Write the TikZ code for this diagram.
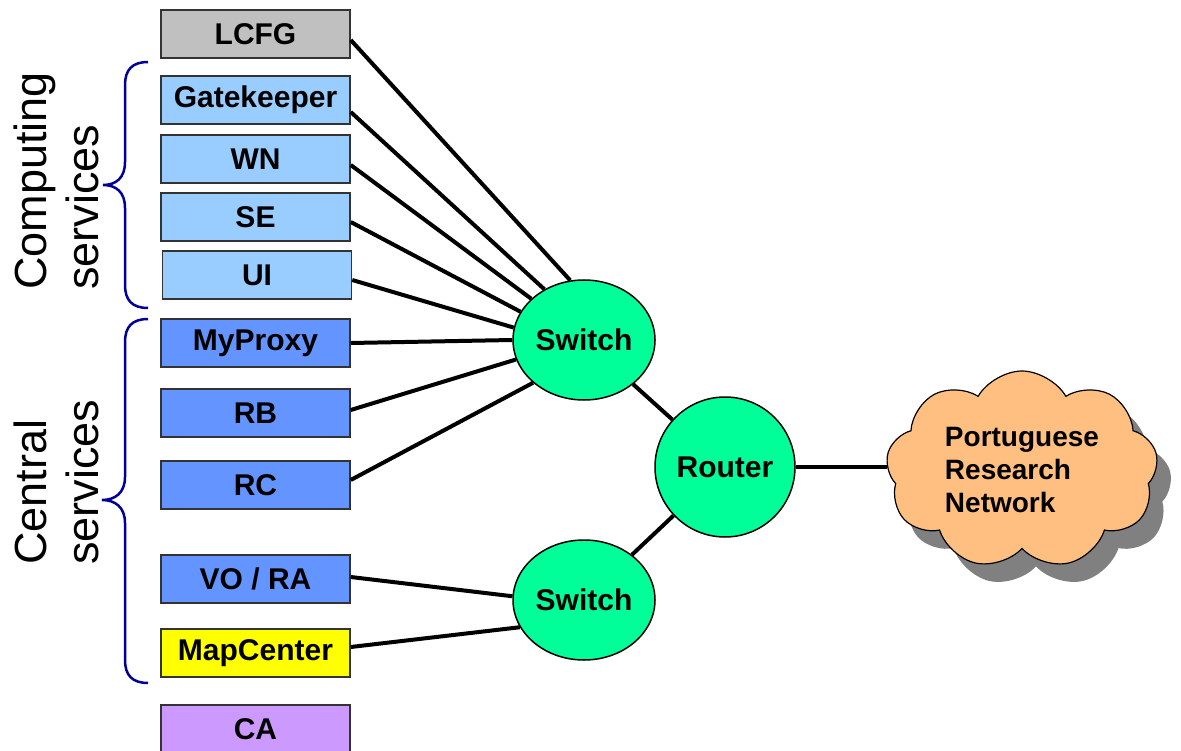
\documentclass[tikz,border=0pt]{standalone}
\usepackage{fontspec}
\setmainfont{Liberation Sans}
\usetikzlibrary{shapes.geometric,shapes.symbols,shadows}

\definecolor{cfggray}{RGB}{192,192,192}
\definecolor{compblue}{RGB}{153,204,255}
\definecolor{centblue}{RGB}{100,148,255}
\definecolor{mapyellow}{RGB}{255,255,0}
\definecolor{capurple}{RGB}{204,153,255}
\definecolor{hubgreen}{RGB}{0,255,153}
\definecolor{cloudorange}{RGB}{255,191,128}
\definecolor{braceblue}{RGB}{0,0,153}

\begin{document}
\begin{tikzpicture}[x=1pt,y=-1pt,
    box/.style={draw=black!80, line width=1.5pt, minimum width=189pt, minimum height=48pt, inner sep=0pt, font=\fontsize{30}{32}\selectfont\bfseries},
    hub/.style={draw=black, line width=1.5pt, fill=hubgreen, inner sep=0pt, font=\fontsize{30}{32}\selectfont\bfseries},
    link/.style={line width=4pt},
    curly/.style={draw=braceblue, line width=2.5pt},
    group/.style={rotate=90, anchor=west, align=left, inner sep=0pt, font=\fontsize{45}{52}\selectfont}]
    \useasboundingbox (0,0) rectangle (1181,751);

    \node[box, fill=cfggray] (lcfg) at (255.5,34) {LCFG};
    \node[box, fill=compblue] (gk) at (255.5,100) {Gatekeeper};
    \node[box, fill=compblue] (wn) at (255.5,159) {WN};
    \node[box, fill=compblue] (se) at (255.5,217) {SE};
    \node[box, fill=compblue] (ui) at (257,275) {UI};
    \node[box, fill=centblue] (myproxy) at (255.5,343) {MyProxy};
    \node[box, fill=centblue] (rb) at (255.5,413) {RB};
    \node[box, fill=centblue] (rc) at (255.5,485) {RC};
    \node[box, fill=centblue] (vora) at (255.5,579) {VO / RA};
    \node[box, fill=mapyellow] (mapc) at (255.5,653) {MapCenter};
    \node[box, fill=capurple] (ca) at (255.5,729) {CA};

    \node[hub, ellipse, minimum width=142pt, minimum height=120pt] (sw1) at (584,340) {Switch};
    \node[hub, ellipse, minimum width=142pt, minimum height=120pt] (sw2) at (584,600) {Switch};
    \node[hub, circle, minimum size=140pt] (router) at (725,467) {Router};
    \node[cloud, cloud puffs=9, cloud puff arc=120, aspect=1.4, minimum width=272pt, minimum height=198pt,
          draw=black, line width=1.2pt, fill=cloudorange,
          drop shadow={shadow xshift=14pt, shadow yshift=-18pt, fill=black!50, opacity=1},
          align=left, font=\fontsize{28}{33}\selectfont\bfseries] (prn) at (1022,470) {Portuguese\\Research\\Network};

    \draw[link] ([yshift=-6pt]lcfg.east) -- (sw1.103);
    \draw[link] ([yshift=-12pt]gk.east) -- (sw1.128);
    \draw[link] ([yshift=-6pt]wn.east) -- (sw1.142);
    \draw[link] ([yshift=-5pt]se.east) -- (sw1.156);
    \draw[link] ([yshift=-5pt]ui.east) -- (sw1.170);
    \draw[link] (myproxy.east) -- (sw1.180);
    \draw[link] ([yshift=3pt]rb.east) -- (sw1.196);
    \draw[link] ([yshift=5pt]rc.east) -- (sw1.220);
    \draw[link] ([yshift=2pt]vora.east) -- (sw2.177);
    \draw[link] ([yshift=6pt]mapc.east) -- (sw2.203);
    \draw[link] (sw1) -- (router);
    \draw[link] (router) -- (sw2);
    \draw[link] (router.east) -- (router.east -| prn.west);

    \draw[curly] (148,62) .. controls (132,62) and (125,70) .. (125,85) -- (125,162)
        .. controls (125,178) and (116,185) .. (103,185) .. controls (116,185) and (125,192) .. (125,208)
        -- (125,285) .. controls (125,300) and (132,308) .. (148,308);
    \draw[curly] (148,319) .. controls (132,319) and (125,327) .. (125,342) -- (125,477)
        .. controls (125,493) and (115,500) .. (102,500) .. controls (115,500) and (125,507) .. (125,523)
        -- (125,660) .. controls (125,675) and (132,683) .. (148,683);

    \node[group] (comp) at (56,290) {Computing\\services};
    \node[group] (cent) at (56,565) {Central\\services};
  \end{tikzpicture}
\end{document}
